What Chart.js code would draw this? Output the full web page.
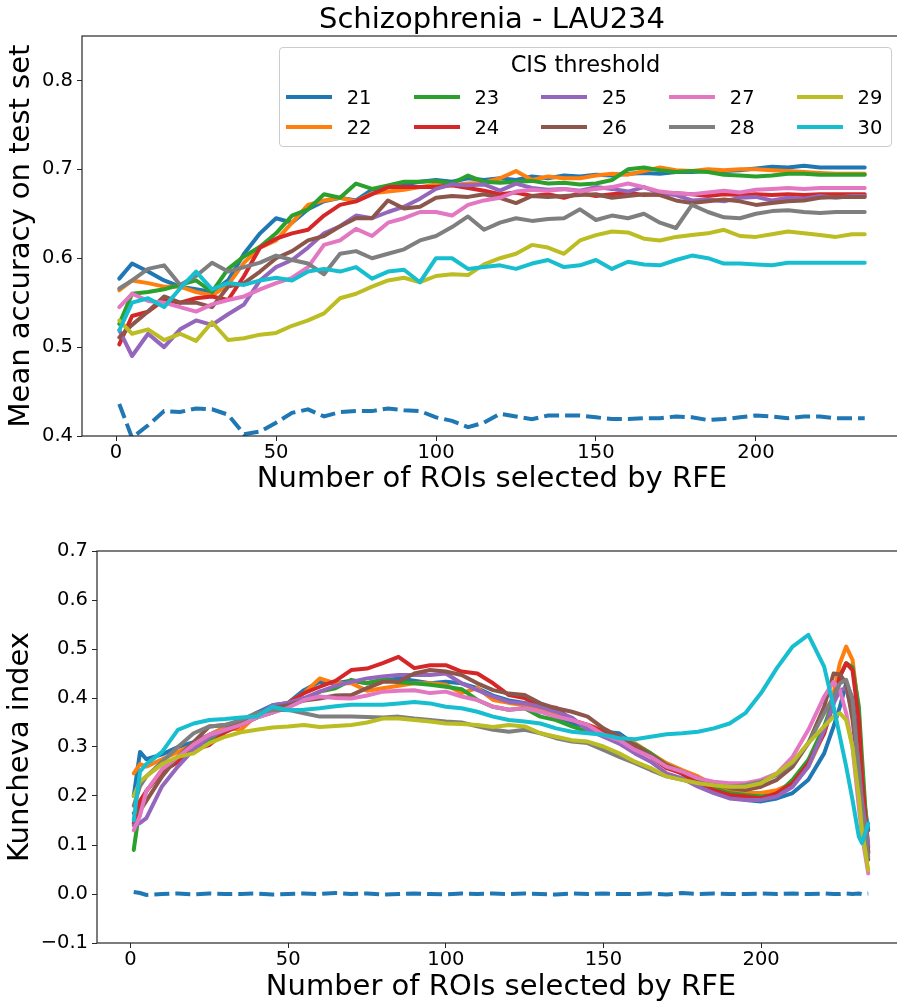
<!DOCTYPE html>
<html>
<head>
<meta charset="UTF-8">
<script src="https://cdn.jsdelivr.net/npm/chart.js@4.4.0/dist/chart.umd.min.js"></script>
<style>
  body { margin: 0; background: #fff; overflow: hidden; }
  #wrap { position: relative; width: 897px; height: 1003px; overflow: hidden; font-family: 'DejaVu Sans'; }
  canvas { position: absolute; left: 0; }
  #legend { position: absolute; left: 279px; top: 47px; width: 613px; height: 100px; box-sizing: border-box;
            border: 1px solid #cccccc; border-radius: 4px; background: rgba(255,255,255,0.8); }
  #legend .ttl { position: absolute; left: 0; width: 100%; top: 2px; text-align: center; font-size: 22.5px; line-height: 28px; color: #000; }
  #legend .ln { position: absolute; width: 46px; height: 4px; }
  #legend .lb { position: absolute; font-size: 19.5px; line-height: 24px; color: #000; }
</style>
</head>
<body>
<div id="wrap">
  <canvas id="accChart" width="905" height="497" style="top:0; width:905px; height:497px"></canvas>
  <canvas id="kunChart" width="906" height="505" style="top:500px; width:906px; height:505px"></canvas>
  <div id="legend"></div>
</div>
<script>
// ---- data ----
const NAMES = ['21', '22', '23', '24', '25', '26', '27', '28', '29', '30'];
const COLORS = ['#1f77b4', '#ff7f0e', '#2ca02c', '#d62728', '#9467bd', '#8c564b', '#e377c2', '#7f7f7f', '#bcbd22', '#17becf'];

// top panel: mean accuracy, x = number of ROIs
const X_TOP = [1, 5, 10, 15, 20, 25, 30, 35, 40, 45, 50, 55, 60, 65, 70, 75, 80, 85, 90, 95, 100, 105, 110, 115, 120,
  125, 130, 135, 140, 145, 150, 155, 160, 165, 170, 175, 180, 185, 190, 195, 200, 205, 210, 215, 220, 225, 230, 234];
const acc21 = [.577,.594,.585,.575,.568,.565,.562,.575,.605,.628,.645,.64,.655,.664,.668,.665,.677,.68,.683,.686,.688,.686,.69,.688,.69,.688,.692,.69,.693,.692,.694,.693,.695,.696,.695,.697,.697,.698,.698,.699,.701,.703,.702,.704,.702,.702,.702,.702];
const acc22 = [.564,.575,.572,.568,.568,.562,.558,.57,.595,.612,.62,.64,.66,.665,.668,.664,.673,.675,.677,.68,.683,.682,.684,.685,.69,.698,.688,.692,.69,.69,.693,.695,.694,.698,.702,.699,.698,.700,.699,.700,.700,.699,.698,.697,.696,.695,.695,.695];
const acc23 = [.526,.56,.562,.565,.57,.575,.562,.588,.602,.613,.628,.648,.655,.672,.668,.684,.678,.682,.686,.686,.687,.684,.693,.686,.685,.686,.687,.684,.685,.683,.684,.688,.700,.702,.699,.697,.698,.697,.694,.693,.692,.693,.695,.695,.694,.694,.694,.694];
const acc24 = [.503,.535,.54,.553,.55,.555,.557,.553,.58,.612,.622,.628,.632,.648,.66,.664,.672,.68,.68,.68,.68,.682,.679,.676,.672,.674,.67,.672,.668,.673,.67,.672,.674,.671,.672,.673,.672,.670,.672,.671,.672,.671,.672,.671,.672,.672,.672,.672];
const acc25 = [.519,.49,.515,.50,.52,.53,.525,.537,.548,.575,.59,.598,.612,.628,.636,.648,.645,.652,.658,.667,.678,.683,.682,.683,.676,.684,.679,.677,.678,.676,.68,.678,.675,.68,.673,.671,.665,.666,.664,.668,.669,.665,.668,.667,.670,.668,.670,.670];
const acc26 = [.511,.525,.54,.557,.55,.55,.545,.568,.572,.585,.60,.608,.62,.625,.636,.645,.645,.665,.656,.658,.668,.670,.669,.672,.668,.662,.67,.669,.670,.671,.672,.668,.670,.672,.671,.665,.662,.664,.666,.664,.660,.662,.664,.665,.668,.669,.669,.669];
const acc27 = [.545,.56,.552,.55,.545,.54,.548,.553,.557,.565,.572,.578,.59,.615,.62,.633,.625,.64,.645,.652,.652,.648,.660,.665,.668,.675,.677,.676,.678,.675,.678,.68,.684,.68,.675,.673,.672,.674,.676,.674,.677,.678,.679,.678,.679,.679,.679,.679];
const acc28 = [.566,.575,.588,.592,.57,.58,.595,.585,.59,.595,.603,.598,.594,.582,.605,.608,.60,.605,.61,.62,.625,.635,.647,.632,.64,.645,.642,.644,.645,.655,.643,.648,.645,.65,.64,.634,.66,.652,.646,.645,.65,.653,.654,.652,.651,.652,.652,.652];
const acc29 = [.53,.515,.52,.508,.515,.507,.528,.508,.51,.514,.516,.524,.53,.538,.555,.56,.568,.575,.578,.573,.58,.582,.581,.593,.60,.605,.615,.612,.605,.62,.626,.63,.629,.622,.62,.624,.626,.628,.632,.625,.624,.627,.63,.628,.626,.624,.627,.627];
const acc30 = [.519,.55,.555,.545,.566,.585,.565,.572,.57,.575,.578,.575,.585,.588,.585,.59,.577,.585,.587,.573,.60,.60,.588,.59,.592,.588,.594,.598,.59,.592,.598,.588,.596,.593,.592,.598,.603,.60,.594,.594,.593,.592,.595,.595,.595,.595,.595,.595];
const accRandom = [.436,.398,.412,.428,.427,.431,.43,.424,.402,.405,.415,.426,.43,.422,.427,.428,.428,.431,.429,.428,.421,.417,.41,.415,.425,.422,.419,.423,.423,.423,.421,.419,.419,.42,.42,.422,.421,.418,.419,.421,.423,.422,.42,.422,.422,.42,.42,.42];

// bottom panel: Kuncheva index
const X_BOT = [1, 3, 5, 10, 15, 20, 25, 30, 35, 40, 45, 50, 55, 60, 65, 70, 75, 80, 85, 90, 95, 100, 105, 110, 115, 120,
  125, 130, 135, 140, 145, 150, 155, 160, 165, 170, 175, 180, 185, 190, 195, 200, 205, 210, 215, 220, 223, 225, 227, 229, 231, 232, 234];
const kun21 = [.20,.29,.275,.285,.30,.31,.325,.34,.35,.37,.385,.39,.416,.433,.43,.435,.43,.435,.44,.435,.43,.433,.43,.42,.405,.395,.39,.375,.362,.348,.341,.331,.328,.305,.285,.263,.245,.225,.212,.202,.192,.189,.195,.206,.233,.287,.342,.382,.43,.40,.29,.22,.13];
const kun22 = [.246,.265,.26,.275,.29,.305,.325,.34,.335,.365,.38,.39,.41,.44,.43,.43,.415,.42,.425,.43,.43,.427,.41,.42,.396,.39,.385,.375,.365,.355,.345,.335,.321,.308,.287,.267,.253,.24,.223,.212,.206,.206,.212,.226,.26,.328,.41,.471,.505,.478,.369,.25,.095];
const kun23 = [.09,.18,.21,.25,.27,.30,.315,.335,.35,.36,.37,.385,.395,.413,.42,.437,.43,.438,.432,.43,.427,.423,.418,.396,.382,.376,.379,.362,.355,.342,.331,.325,.316,.305,.287,.263,.25,.233,.216,.206,.202,.199,.203,.233,.274,.342,.396,.444,.471,.463,.383,.28,.085];
const kun24 = [.145,.19,.21,.25,.27,.294,.304,.33,.345,.36,.38,.39,.41,.423,.435,.457,.46,.471,.484,.461,.467,.467,.454,.45,.43,.406,.40,.382,.38,.355,.345,.331,.314,.301,.28,.257,.246,.226,.212,.202,.199,.195,.206,.226,.267,.328,.389,.444,.471,.457,.355,.24,.083];
const kun25 = [.14,.145,.155,.22,.26,.295,.32,.335,.35,.365,.385,.39,.40,.413,.425,.433,.44,.444,.447,.447,.447,.45,.43,.416,.403,.392,.389,.382,.372,.36,.335,.321,.307,.287,.27,.246,.236,.219,.206,.195,.192,.192,.199,.219,.26,.335,.389,.416,.42,.37,.26,.19,.10];
const kun26 = [.165,.17,.19,.24,.28,.31,.342,.345,.35,.365,.38,.385,.395,.399,.405,.406,.42,.433,.433,.45,.457,.454,.447,.43,.416,.409,.406,.389,.379,.372,.362,.338,.321,.304,.284,.263,.25,.236,.226,.216,.212,.219,.233,.26,.308,.382,.45,.448,.43,.356,.246,.17,.07];
const kun27 = [.13,.16,.21,.255,.28,.305,.325,.335,.345,.36,.37,.38,.396,.403,.40,.399,.405,.413,.415,.416,.41,.413,.403,.396,.382,.376,.379,.372,.362,.355,.345,.325,.314,.294,.28,.26,.25,.236,.229,.226,.226,.233,.246,.28,.335,.403,.433,.416,.369,.30,.178,.12,.042];
const kun28 = [.18,.22,.24,.27,.30,.328,.342,.345,.355,.37,.375,.376,.369,.362,.362,.362,.361,.36,.362,.358,.355,.352,.35,.342,.335,.331,.335,.328,.318,.311,.308,.294,.28,.267,.253,.24,.233,.226,.222,.219,.222,.229,.243,.267,.308,.369,.403,.43,.437,.396,.25,.17,.076];
const kun29 = [.20,.23,.24,.265,.28,.287,.308,.321,.33,.335,.34,.342,.345,.341,.343,.345,.35,.358,.358,.355,.352,.348,.347,.345,.341,.345,.342,.328,.321,.314,.311,.301,.287,.27,.257,.24,.233,.226,.222,.219,.219,.226,.246,.27,.308,.342,.362,.369,.355,.30,.199,.13,.049];
const kun30 = [.15,.25,.265,.29,.335,.348,.355,.357,.36,.362,.382,.375,.376,.379,.383,.386,.386,.386,.389,.392,.389,.382,.379,.372,.362,.355,.352,.348,.338,.331,.328,.325,.318,.316,.321,.326,.328,.331,.338,.348,.369,.41,.461,.505,.529,.464,.382,.321,.26,.192,.117,.104,.144];
const kunRandom = [.004,.002,-.002,0,.001,-.001,.001,0,0,.001,-.001,0,.001,0,.002,0,.001,-.001,0,.001,0,-.001,.001,0,.001,0,.001,0,-.001,.001,0,.001,0,0,.001,-.001,.002,0,.001,0,0,.001,0,.001,0,.001,0,0,.001,0,.001,0,.001];

const X_TICKS = [0, 50, 100, 150, 200];
const ACC_TICKS = [0.4, 0.5, 0.6, 0.7, 0.8];
const KUN_TICKS = [-0.1, 0, 0.1, 0.2, 0.3, 0.4, 0.5, 0.6, 0.7];

// ---- drawing ----
const FONT = 'DejaVu Sans';

function makeSets(xs, series, random) {
  var sets = series.map(function (ys, i) {
    return {
      label: NAMES[i],
      data: xs.map(function (x, j) { return { x: x, y: ys[j] }; }),
      borderColor: COLORS[i],
      borderWidth: 4,
      borderJoinStyle: 'round',
      borderCapStyle: 'round',
      pointRadius: 0,
      tension: 0,
      fill: false,
      clip: 0,
      order: series.length - i
    };
  });
  sets.push({
    label: 'random',
    data: xs.map(function (x, j) { return { x: x, y: random[j] }; }),
    borderColor: COLORS[0],
    borderWidth: 4,
    borderDash: [15, 6],
    pointRadius: 0,
    fill: false,
    clip: 0,
    order: series.length + 1
  });
  return sets;
}

// box round the plot area, like matplotlib spines
const framePlugin = {
  id: 'frame',
  afterDatasetsDraw(chart) {
    const a = chart.chartArea, ctx = chart.ctx;
    ctx.save();
    ctx.strokeStyle = '#262626';
    ctx.lineWidth = 1.2;
    ctx.strokeRect(a.left, a.top, a.right - a.left, a.bottom - a.top);
    ctx.restore();
  }
};

function fmt(v) { return v.toFixed(1).replace('-', '\u2212'); }

function makeOptions(opt) {
  return {
    responsive: false,
    animation: false,
    devicePixelRatio: 1,
    layout: { padding: opt.padding },
    plugins: {
      legend: { display: false },
      tooltip: { enabled: false },
      title: opt.title ? {
        display: true, text: opt.title, fullSize: false, color: '#000',
        font: { family: FONT, size: 29, weight: 'normal', lineHeight: 1 },
        padding: { top: 6, bottom: 1 }
      } : { display: false }
    },
    scales: {
      x: {
        type: 'linear', min: -10.65, max: 245.65,
        afterBuildTicks: function (s) { s.ticks = X_TICKS.map(function (v) { return { value: v }; }); },
        afterFit: function (s) { s.height = opt.xHeight; },
        ticks: { color: '#000', font: { family: FONT, size: 19.5 }, padding: 0, maxRotation: 0, autoSkip: false },
        grid: { drawOnChartArea: false, drawTicks: true, tickLength: 5, color: '#262626' },
        border: { display: false },
        title: { display: true, text: 'Number of ROIs selected by RFE', color: '#000',
                 font: { family: FONT, size: 29 }, padding: 0 }
      },
      y: {
        type: 'linear', min: opt.yMin, max: opt.yMax,
        afterBuildTicks: function (s) { s.ticks = opt.yTicks.map(function (v) { return { value: v }; }); },
        afterFit: function (s) { s.width = opt.yWidth; },
        ticks: { color: '#000', font: { family: FONT, size: 19.5 }, padding: 4, callback: fmt },
        grid: { drawOnChartArea: false, drawTicks: true, tickLength: 5, color: '#262626' },
        border: { display: false },
        title: { display: true, text: opt.yLabel, color: '#000',
                 font: { family: FONT, size: 29 }, padding: { top: opt.yTitlePad, bottom: 0 } }
      }
    }
  };
}

new Chart(document.getElementById('accChart'), {
  type: 'line',
  data: { datasets: makeSets(X_TOP, [acc21, acc22, acc23, acc24, acc25, acc26, acc27, acc28, acc29, acc30], accRandom) },
  options: makeOptions({
    title: 'Schizophrenia - LAU234',
    padding: { left: 0, right: 3, top: 0, bottom: 0 },
    xHeight: 61, yWidth: 82, yMin: 0.4, yMax: 0.85, yTicks: ACC_TICKS,
    yLabel: 'Mean accuracy on test set', yTitlePad: 4
  }),
  plugins: [framePlugin]
});

new Chart(document.getElementById('kunChart'), {
  type: 'line',
  data: { datasets: makeSets(X_BOT, [kun21, kun22, kun23, kun24, kun25, kun26, kun27, kun28, kun29, kun30], kunRandom) },
  options: makeOptions({
    title: null,
    padding: { left: 0, right: 1, top: 51, bottom: 0 },
    xHeight: 62, yWidth: 97, yMin: -0.1, yMax: 0.7, yTicks: KUN_TICKS,
    yLabel: 'Kuncheva index', yTitlePad: 3
  }),
  plugins: [framePlugin]
});

// legend in the top panel, 5 columns filled top to bottom
var legend = document.getElementById('legend');
var ttl = document.createElement('div');
ttl.className = 'ttl';
ttl.textContent = 'CIS threshold';
legend.appendChild(ttl);
NAMES.forEach(function (name, i) {
  var col = Math.floor(i / 2), row = i % 2;
  var ln = document.createElement('div');
  ln.className = 'ln';
  ln.style.background = COLORS[i];
  ln.style.left = (6 + 127.7 * col) + 'px';
  ln.style.top = (46.7 + 30 * row) + 'px';
  legend.appendChild(ln);
  var lb = document.createElement('div');
  lb.className = 'lb';
  lb.textContent = name;
  lb.style.left = (66.7 + 127.7 * col) + 'px';
  lb.style.top = (37.5 + 30 * row) + 'px';
  legend.appendChild(lb);
});
</script>
</body>
</html>
